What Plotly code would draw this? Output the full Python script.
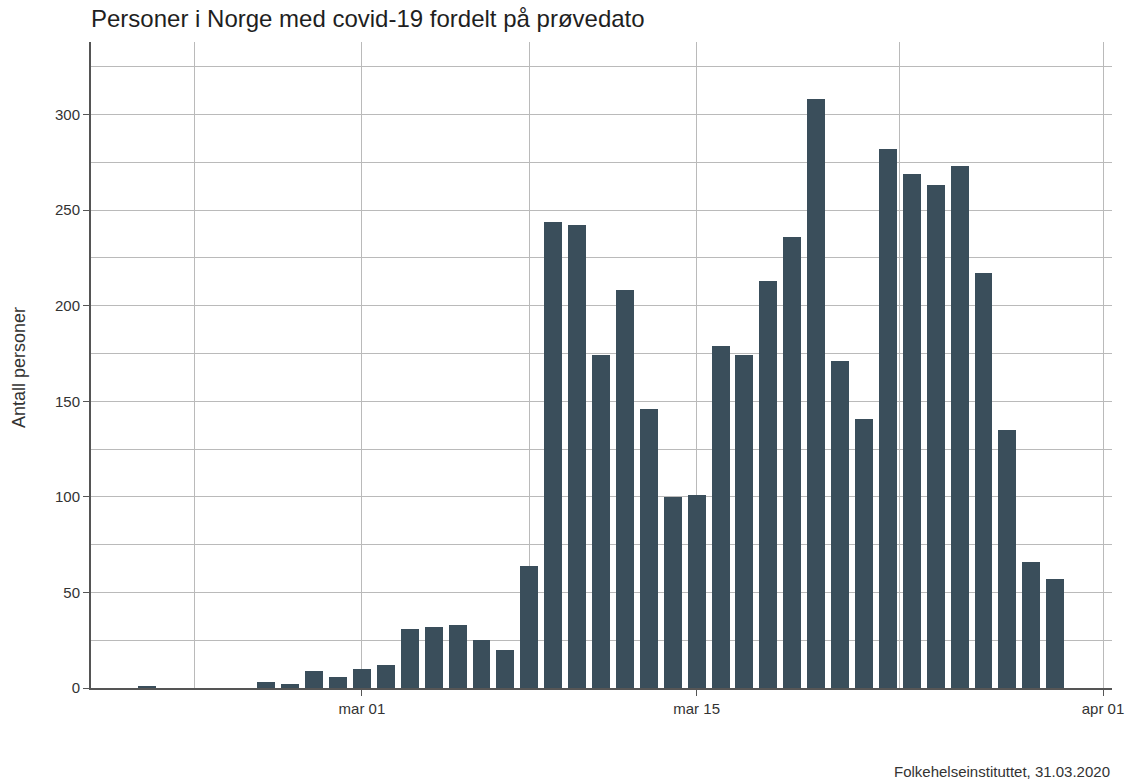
import plotly.graph_objects as go

dates = [
    "2020-02-21", "2020-02-22", "2020-02-23", "2020-02-24", "2020-02-25",
    "2020-02-26", "2020-02-27", "2020-02-28", "2020-02-29", "2020-03-01",
    "2020-03-02", "2020-03-03", "2020-03-04", "2020-03-05", "2020-03-06",
    "2020-03-07", "2020-03-08", "2020-03-09", "2020-03-10", "2020-03-11",
    "2020-03-12", "2020-03-13", "2020-03-14", "2020-03-15", "2020-03-16",
    "2020-03-17", "2020-03-18", "2020-03-19", "2020-03-20", "2020-03-21",
    "2020-03-22", "2020-03-23", "2020-03-24", "2020-03-25", "2020-03-26",
    "2020-03-27", "2020-03-28", "2020-03-29", "2020-03-30",
]
persons = [
    1, 0, 0, 0, 0,
    3, 2, 9, 6, 10,
    12, 31, 32, 33, 25,
    20, 64, 244, 242, 174,
    208, 146, 100, 101, 179,
    174, 213, 236, 308, 171,
    141, 282, 269, 263, 273,
    217, 135, 66, 57,
]

x_tick_vals = ["2020-03-01", "2020-03-15", "2020-04-01"]
x_tick_text = ["mar 01", "mar 15", "apr 01"]
x_minor_vals = ["2020-02-23", "2020-03-08", "2020-03-23 12:00"]
y_tick_vals = [0, 50, 100, 150, 200, 250, 300]

title_text = "Personer i Norge med covid-19 fordelt på prøvedato"
y_title = "Antall personer"
caption = "Folkehelseinstituttet, 31.03.2020"

BAR = "#3a4e5b"
GRID = "#bababa"
AXIS = "#555555"
TXT = "#333333"
FONT = "Liberation Sans, Arial, sans-serif"

W, H = 1128, 783

fig = go.Figure()
fig.add_trace(go.Bar(
    x=dates, y=persons,
    width=0.75 * 86400000,
    marker=dict(color=BAR, line=dict(width=0)),
    hovertemplate="%{x|%d.%m}: %{y}<extra></extra>",
))

fig.update_layout(
    width=W, height=H,
    margin=dict(l=91, r=W - 1112, t=42, b=H - 688, autoexpand=False),
    paper_bgcolor="white", plot_bgcolor="white",
    font=dict(family=FONT, color=TXT, size=15),
    showlegend=False,
    bargap=0,
    title=dict(
        text=title_text,
        font=dict(family=FONT, size=24, color="#1f1f1f"),
        xref="paper", x=0, xanchor="left",
        yref="container", y=1 - 19 / H, yanchor="middle",
    ),
    xaxis=dict(
        type="date",
        range=["2020-02-18 16:00", "2020-04-01 09:00"],
        tickmode="array", tickvals=x_tick_vals, ticktext=x_tick_text,
        ticks="outside", ticklen=6, tickcolor=AXIS, tickwidth=1,
        showgrid=True, gridcolor=GRID, gridwidth=1,
        minor=dict(tickmode="array", tickvals=x_minor_vals, showgrid=True,
                   gridcolor=GRID, gridwidth=1, ticks=""),
        showline=True, linecolor=AXIS, linewidth=2,
        zeroline=False, automargin=False,
        tickfont=dict(size=15, color=TXT),
        fixedrange=True,
    ),
    yaxis=dict(
        range=[0, 338],
        tickmode="array", tickvals=y_tick_vals,
        ticks="outside", ticklen=6, tickcolor=AXIS, tickwidth=1,
        showgrid=True, gridcolor=GRID, gridwidth=1,
        minor=dict(dtick=25, tick0=0, showgrid=True, gridcolor=GRID,
                   gridwidth=1, ticks=""),
        showline=True, linecolor=AXIS, linewidth=2,
        zeroline=False, automargin=False,
        tickfont=dict(size=15, color=TXT),
        fixedrange=True,
    ),
    annotations=[
        dict(text=y_title, textangle=-90, xref="paper", yref="paper",
             x=(19 - 91) / 1021, y=(688 - 368) / 646, xanchor="center", yanchor="middle",
             showarrow=False, font=dict(family=FONT, size=18, color=TXT)),
        dict(text=caption, xref="paper", yref="paper",
             x=1, y=-(771 - 688) / 646, xanchor="right", yanchor="middle",
             showarrow=False, font=dict(family=FONT, size=15, color=TXT)),
    ],
)

fig.write_html(
    "out.html",
    config={"displayModeBar": False},
    post_script="document.body.style.margin='0';document.body.style.overflow='hidden';",
)
